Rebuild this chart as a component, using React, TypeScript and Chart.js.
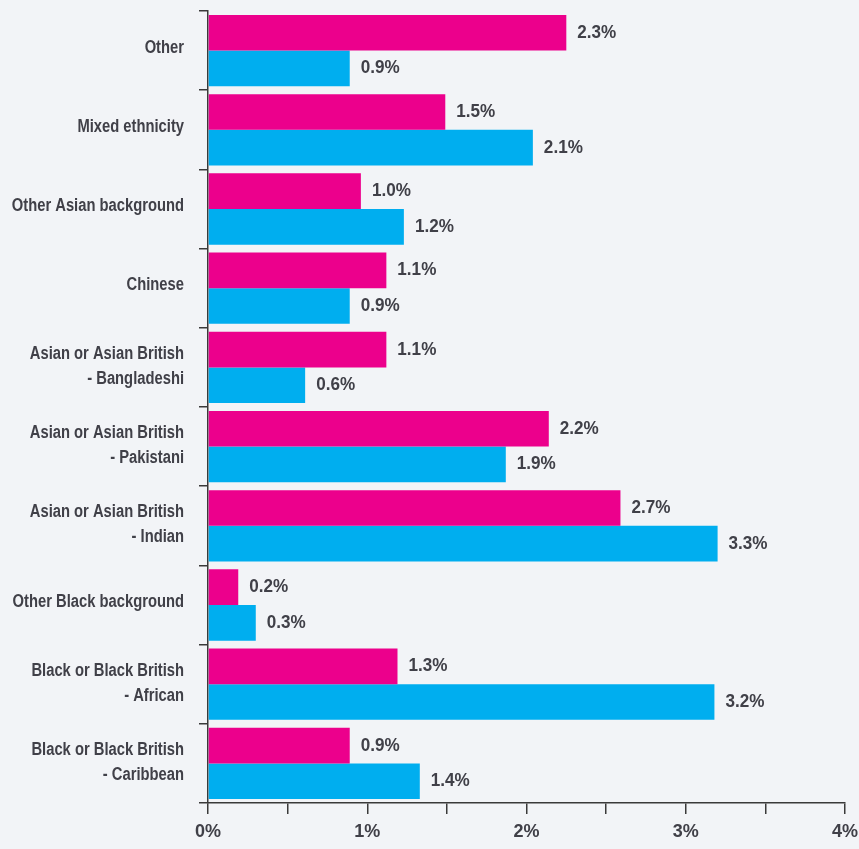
import React, { useEffect, useRef } from "react";
import { Chart, registerables } from "chart.js";

Chart.register(...registerables);

const categories: (string | string[])[] = [
  "Other",
  "Mixed ethnicity",
  "Other Asian background",
  "Chinese",
  ["Asian or Asian British", "- Bangladeshi"],
  ["Asian or Asian British", "- Pakistani"],
  ["Asian or Asian British", "- Indian"],
  "Other Black background",
  ["Black or Black British", "- African"],
  ["Black or Black British", "- Caribbean"],
];

const magentaValues = [2.25, 1.49, 0.96, 1.12, 1.12, 2.14, 2.59, 0.19, 1.19, 0.89];
const cyanValues = [0.89, 2.04, 1.23, 0.89, 0.61, 1.87, 3.2, 0.3, 3.18, 1.33];

const magentaLabels = ["2.3%", "1.5%", "1.0%", "1.1%", "1.1%", "2.2%", "2.7%", "0.2%", "1.3%", "0.9%"];
const cyanLabels = ["0.9%", "2.1%", "1.2%", "0.9%", "0.6%", "1.9%", "3.3%", "0.3%", "3.2%", "1.4%"];

const xTickLabels: Record<string, string> = { "0": "0%", "1": "1%", "2": "2%", "3": "3%", "4": "4%" };

const FONT = "'Liberation Sans', Arial, sans-serif";
const TEXT = "#404048";
const AXIS = "#3a3a3a";
const BG = "#f2f4f7";

function drawScaledText(ctx: any, text: string, x: number, y: number, sx: number, align: string) {
  ctx.save();
  ctx.translate(x, y);
  ctx.scale(sx, 1);
  ctx.textAlign = align;
  ctx.fillText(text, 0, 0);
  ctx.restore();
}

const labelPlugin = {
  id: "customLabels",
  afterDraw(chart: any) {
    const ctx = chart.ctx;
    ctx.save();
    ctx.fillStyle = TEXT;
    ctx.textBaseline = "middle";
    ctx.font = `bold 18px ${FONT}`;
    // category labels
    const yScale = chart.scales.y;
    categories.forEach((cat, i) => {
      const cy = yScale.getPixelForValue(i);
      const lines = Array.isArray(cat) ? cat : [cat];
      const lh = 25;
      const start = cy - ((lines.length - 1) * lh) / 2 - (lines.length === 1 ? 3 : 1);
      lines.forEach((line, li) => {
        drawScaledText(ctx, line, 184, start + li * lh, 0.82, "right");
      });
    });
    // value labels
    const labelSets = [magentaLabels, cyanLabels];
    chart.data.datasets.forEach((_: any, di: number) => {
      const meta = chart.getDatasetMeta(di);
      meta.data.forEach((bar: any, i: number) => {
        drawScaledText(ctx, labelSets[di][i], bar.x + 11, bar.y, 0.95, "left");
      });
    });
    ctx.restore();
  },
};

const bgPlugin = {
  id: "bg",
  beforeDraw(chart: any) {
    const ctx = chart.ctx;
    ctx.save();
    ctx.fillStyle = BG;
    ctx.fillRect(0, 0, chart.width, chart.height);
    ctx.restore();
  },
};

export default function App() {
  const ref = useRef<HTMLCanvasElement | null>(null);

  useEffect(() => {
    document.body.style.margin = "0";
    document.body.style.background = BG;
    if (!ref.current) return;
    const chart = new Chart(ref.current, {
      type: "bar",
      data: {
        labels: categories,
        datasets: [
          {
            label: "Magenta",
            data: magentaValues,
            backgroundColor: "#ec008c",
            categoryPercentage: 0.9,
            barPercentage: 1.0,
          },
          {
            label: "Cyan",
            data: cyanValues,
            backgroundColor: "#00aeef",
            categoryPercentage: 0.9,
            barPercentage: 1.0,
          },
        ],
      },
      options: {
        indexAxis: "y",
        responsive: false,
        animation: false,
        layout: { padding: { left: 0, right: 14, top: 11, bottom: 0 } },
        plugins: {
          legend: { display: false },
          tooltip: { enabled: false },
        },
        scales: {
          x: {
            min: 0,
            max: 4,
            afterFit: (s: any) => {
              s.height = 46;
              s.paddingLeft = 0;
              s.paddingRight = 0;
            },
            border: { display: true, color: AXIS, width: 1.5 },
            grid: {
              drawOnChartArea: false,
              drawTicks: true,
              tickLength: 11,
              color: AXIS,
              lineWidth: 1.5,
            },
            ticks: {
              stepSize: 0.5,
              padding: 7,
              color: TEXT,
              font: { family: FONT, size: 18, weight: "bold" },
              maxRotation: 0,
              autoSkip: false,
              callback: (v: any) => xTickLabels[String(v)] ?? "",
            },
          },
          y: {
            afterFit: (s: any) => {
              s.width = 208;
              s.paddingTop = 0;
              s.paddingBottom = 0;
            },
            border: { display: true, color: AXIS, width: 1.5 },
            grid: {
              offset: true,
              drawOnChartArea: false,
              drawTicks: true,
              tickLength: 9,
              color: AXIS,
              lineWidth: 1.5,
            },
            ticks: {
              display: false,
              autoSkip: false,
            },
          },
        },
      },
      plugins: [bgPlugin, labelPlugin],
    });
    return () => chart.destroy();
  }, []);

  return (
    <div style={{ width: 859, height: 849, background: BG }}>
      <canvas ref={ref} width={859} height={849} style={{ display: "block" }} />
    </div>
  );
}
